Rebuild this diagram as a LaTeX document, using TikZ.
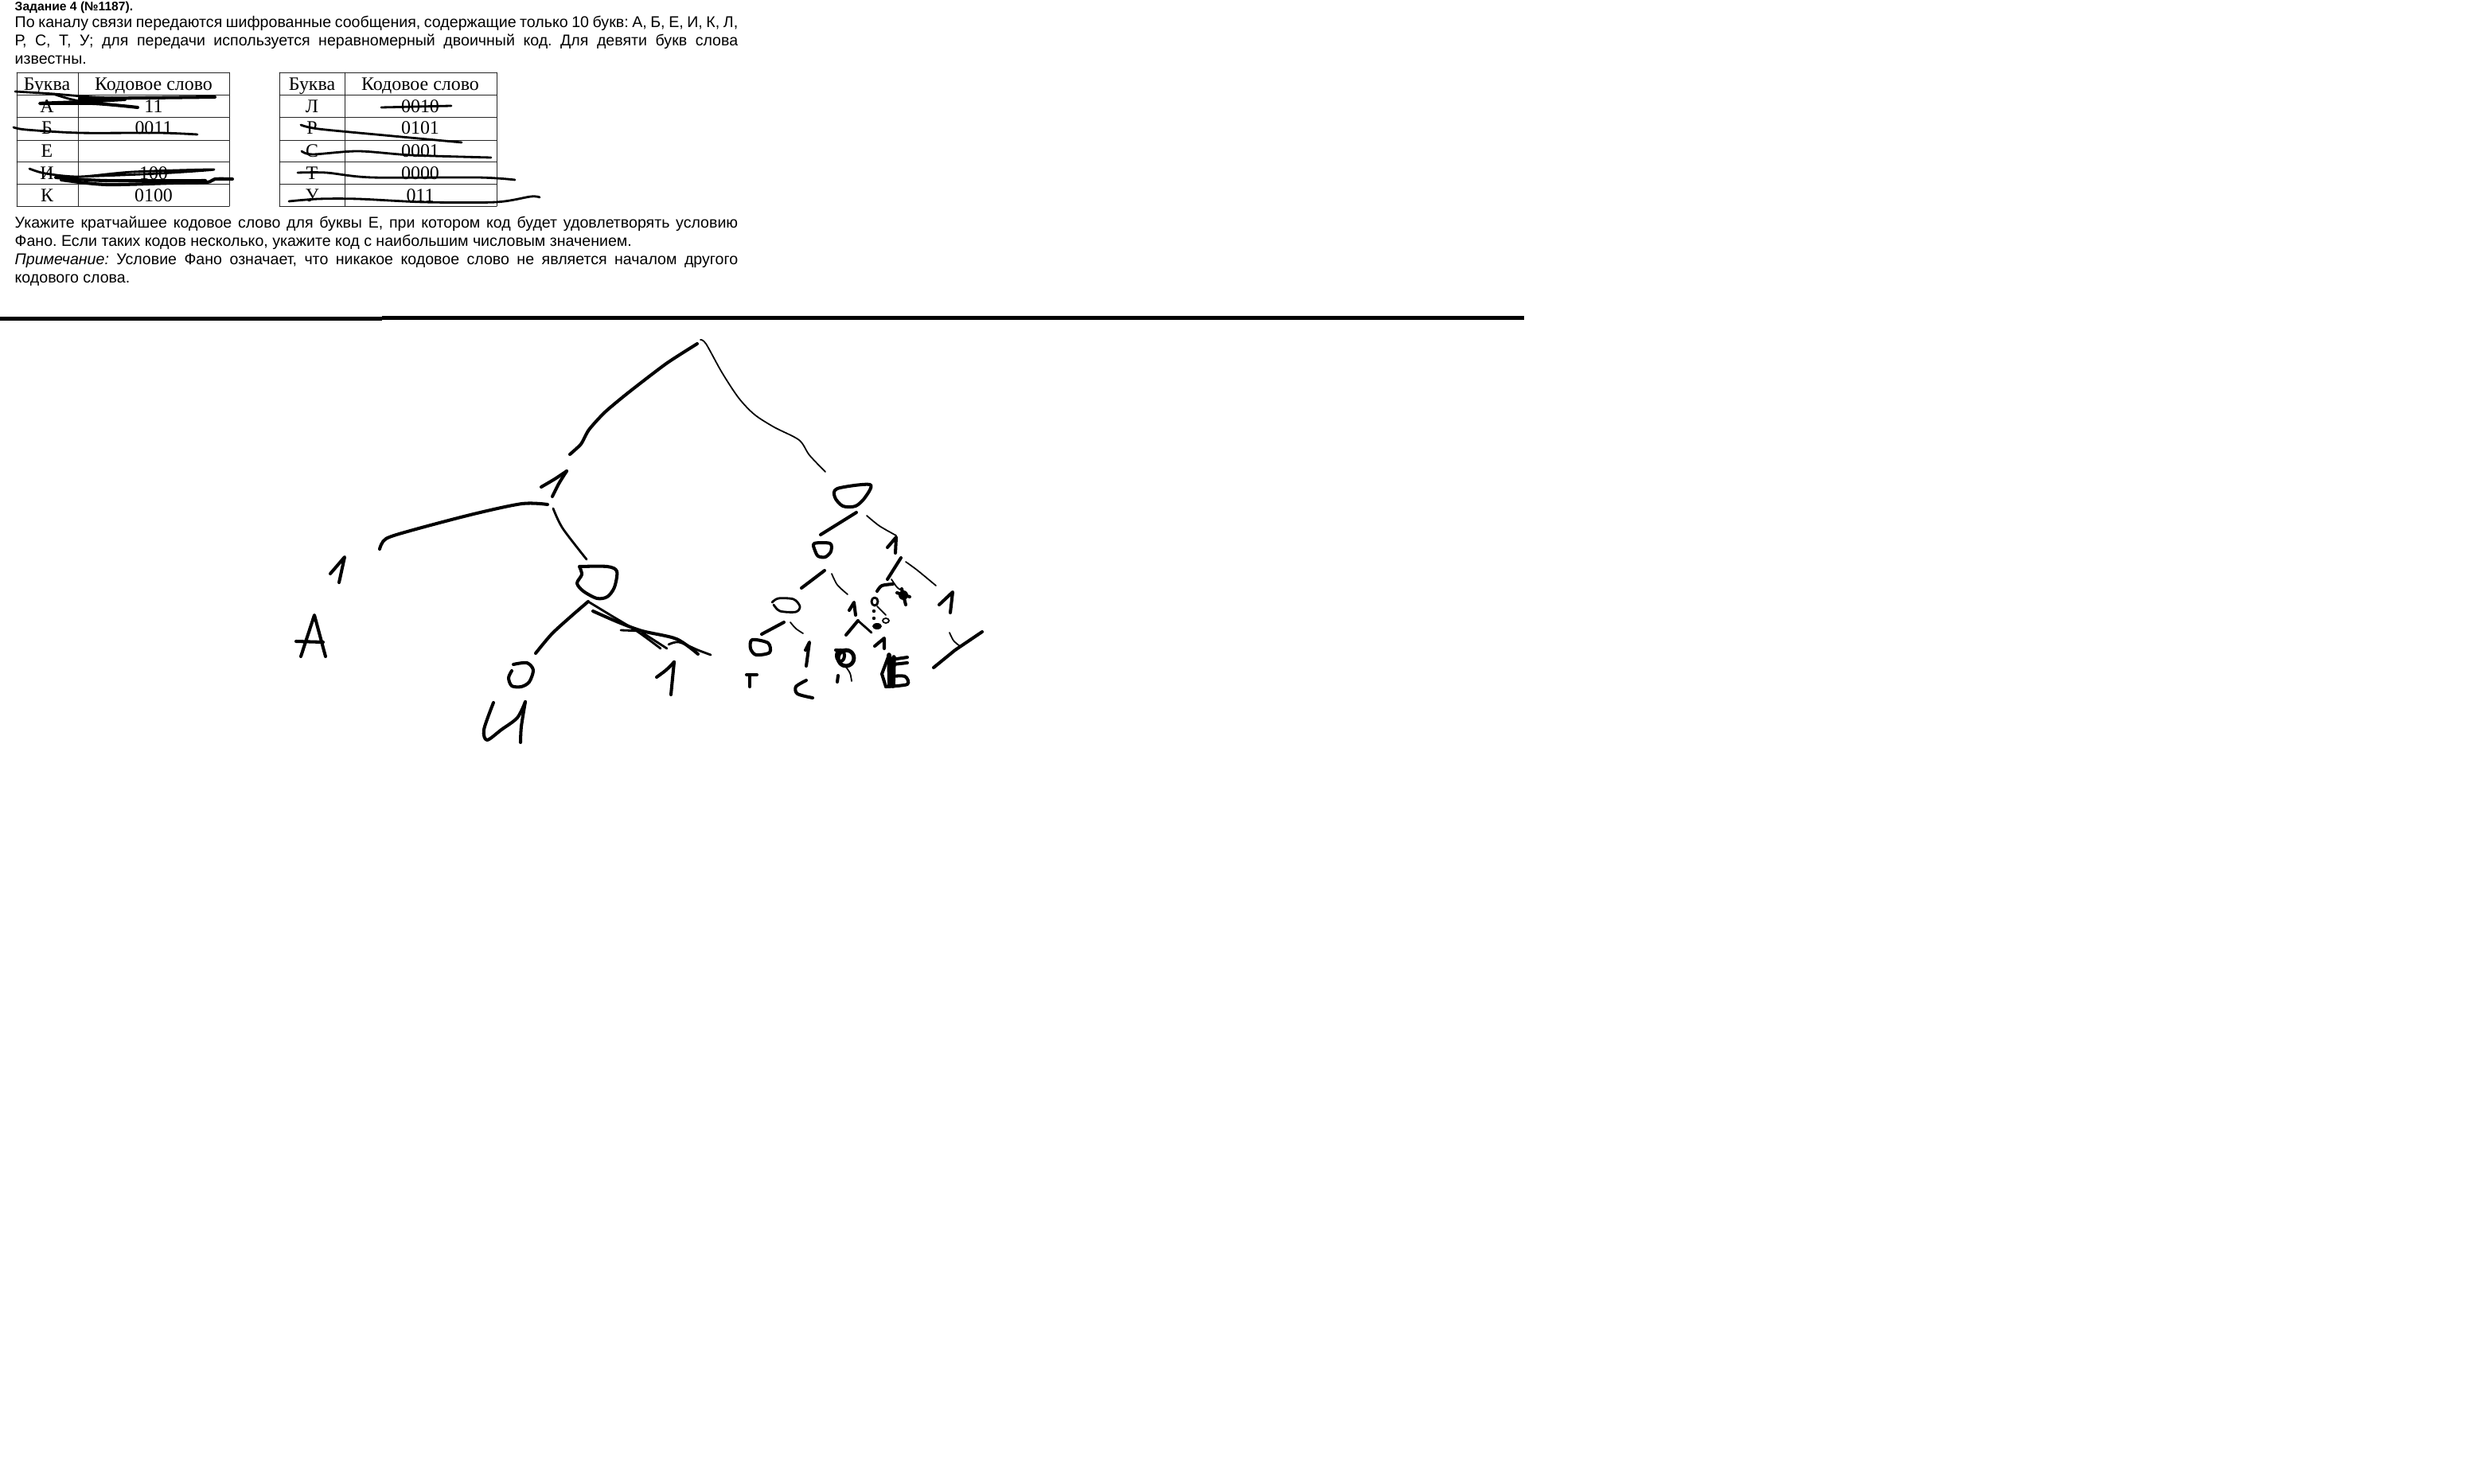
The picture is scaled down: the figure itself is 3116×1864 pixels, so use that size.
\documentclass[tikz,border=0pt]{standalone}
\usepackage{fontspec}
\setmainfont{Liberation Sans}
\newfontfamily\tablefont{Liberation Serif}
\frenchspacing
\begin{document}
\begin{tikzpicture}[x=0.01cm, y=-0.01cm,
    line cap=round, line join=round,
    inkthick/.style={line width=1.15pt},
    inkmid/.style={line width=0.8pt},
    inkthin/.style={line width=0.5pt},
    rowtext/.style={anchor=base west, inner sep=0pt, font=\fontsize{5.57}{6}\selectfont},
    cell/.style={anchor=base, inner sep=0pt, font=\tablefont\fontsize{6.8}{7}\selectfont},
    gridline/.style={line width=0.25pt, black!85}]
  \useasboundingbox (0,0) rectangle (3116,1864);
  \fill[white] (0,0) rectangle (3116,1864);
  % условие
  \node[rowtext, font=\bfseries\fontsize{4.45}{6}\selectfont] (title) at (18,14) {Задание 4 (№1187).};
  \node[rowtext] (line1) at (18,35) {\makebox[9.08cm][s]{По каналу связи передаются шифрованные сообщения, содержащие только 10 букв: А, Б, Е, И, К, Л,}};
  \node[rowtext] (line2) at (18,58) {\makebox[9.08cm][s]{Р, С, Т, У; для передачи используется неравномерный двоичный код. Для девяти букв слова}};
  \node[rowtext] (line3) at (18,81) {известны.};
  \node[rowtext] (line4) at (18,287) {\makebox[9.08cm][s]{Укажите кратчайшее кодовое слово для буквы Е, при котором код будет удовлетворять условию}};
  \node[rowtext] (line5) at (18,310) {Фано. Если таких кодов несколько, укажите код с наибольшим числовым значением.};
  \node[rowtext] (line6) at (18,333) {\makebox[9.08cm][s]{\textit{Примечание:} Условие Фано означает, что никакое кодовое слово не является началом другого}};
  \node[rowtext] (line7) at (18,356) {кодового слова.};
  % таблицы
  \foreach \xa/\xb/\xc in {21/98/288, 351/433/624} {
    \foreach \y in {91,119,147,176,203,231,259}
      \draw[gridline] (\xa,\y) -- (\xc,\y);
    \foreach \x in {\xa,\xb,\xc}
      \draw[gridline] (\x,91) -- (\x,259);
  }
  \foreach \nm/\letter/\code/\y in {a/Буква/Кодовое слово/114, b/А/11/142, c/Б/0011/169, d/Е/{}/198, e/И/100/226, f/К/0100/254} {
    \node[cell] (l\nm) at (59,\y) {\letter};
    \node[cell] (k\nm) at (193,\y) {\code};
  }
  \foreach \nm/\letter/\code/\y in {a/Буква/Кодовое слово/114, b/Л/0010/142, c/Р/0101/169, d/С/0001/198, e/Т/0000/226, f/У/011/254} {
    \node[cell] (m\nm) at (392,\y) {\letter};
    \node[cell] (n\nm) at (528,\y) {\code};
  }
  % зачёркивания
  \draw[inkmid] plot[smooth] coordinates {(19,115) (67,118) (117,122) (157,123) (270,122)};
  \draw[inkthick] plot[smooth] coordinates {(157,125) (100,128) (50,130) (117,130) (173,135)};
  \draw[inkmid] plot[smooth] coordinates {(67,118) (100,127) (173,135)};
  \draw[inkthick] (100,124) -- (270,122);
  \draw[inkmid] plot[smooth] coordinates {(17,160) (33,163) (100,167) (200,167) (248,169)};
  \draw[inkmid] plot[smooth] coordinates {(37,212) (57,218) (100,222) (167,216) (269,213) (200,218) (100,222)};
  \draw[inkthick] plot[smooth] coordinates {(70,223) (133,227) (258,227)};
  \draw[inkthick] plot[smooth] coordinates {(77,226) (133,232) (217,230) (260,229) (270,225) (292,225)};
  \draw[inkmid] (479,135) -- (567,133);
  \draw[inkmid] plot[smooth] coordinates {(378,157) (400,162) (483,170) (580,179)};
  \draw[inkmid] plot[smooth] coordinates {(379,190) (393,194) (450,190) (517,195) (617,198)};
  \draw[inkmid] plot[smooth] coordinates {(374,217) (410,217) (467,223) (600,223) (647,226)};
  \draw[inkmid] plot[smooth] coordinates {(363,253) (400,250) (450,250) (533,254) (623,254) (667,247) (678,248)};
  % линия
  \fill[black] (0,398) rectangle (480,403);
  \fill[black] (480,397.5) rectangle (1435,402.5);
  \fill[black] (1435,397) rectangle (1915,402);
  % дерево: левая часть
  \draw[inkthick] plot[smooth, tension=0.4] coordinates {(876,432) (837,457) (790,493) (760,518) (740,540) (730,558) (716,571)};
  \draw[inkthin] plot[smooth] coordinates {(880,427) (887,432) (907,468) (928,500) (948,521) (973,537) (1004,553) (1017,572) (1037,593)};
  \draw[inkthick] plot[smooth] coordinates {(680,612) (697,602) (712,592)};
  \draw[inkthick] plot[smooth] coordinates {(712,592) (702,608) (694,624)};
  \draw[inkthick] plot[smooth] coordinates {(688,634) (656,633) (595,646) (519,666) (485,677) (477,690)};
  \draw[inkmid] plot[smooth] coordinates {(695,639) (707,664) (737,703)};
  \draw[inkthick] (415,721) -- (433,700) -- (426,732);
  \draw[inkthick] (378,825) -- (395,773) -- (409,825) (372,806) -- (406,807);
  \draw[inkthick] plot[smooth] coordinates {(728,712) (763,712) (775,718) (772,738) (763,750) (750,752) (733,743) (725,733) (731,722) (728,712)};
  \draw[inkthick] plot[smooth] coordinates {(673,821) (693,797) (717,775) (739,756)};
  \draw[inkmid] plot[smooth] coordinates {(739,756) (767,773) (800,793) (830,815)};
  \draw[inkmid] (807,795) -- (838,815);
  \draw[inkthick] plot[smooth] coordinates {(745,768) (777,782) (807,793) (850,803) (877,822)};
  \draw[inkmid] (780,792) -- (807,793);
  \draw[inkmid] plot[smooth] coordinates {(840,810) (853,807) (877,817) (893,823)};
  \draw[inkthick] plot[smooth] coordinates {(645,835) (662,833) (670,842) (665,857) (655,863) (643,862) (639,852) (643,843)};
  \draw[inkthick] plot[smooth] coordinates {(620,883) (608,917) (612,930) (630,917) (650,902) (660,882)};
  \draw[inkthick] plot[smooth] coordinates {(660,882) (655,913) (654,933)};
  \draw[inkthick] plot[smooth] coordinates {(825,851) (837,842) (847,832)};
  \draw[inkthick] (847,832) -- (843,873);
  % дерево: правая часть
  \draw[inkthick] plot[smooth cycle] coordinates {(1052,614) (1093,609) (1087,625) (1075,636) (1059,636) (1049,625)};
  \draw[inkthick] (1076,644) -- (1031,672);
  \draw[inkthin] plot[smooth] coordinates {(1089,648) (1105,661) (1126,673)};
  \draw[inkthick] plot[smooth cycle] coordinates {(1023,683) (1043,683) (1044,693) (1037,700) (1028,699) (1024,692)};
  \draw[inkthick] (1115,688) -- (1126,675) -- (1125,695);
  \draw[inkthick] (1132,701) -- (1115,728);
  \draw[inkthin] plot[smooth] coordinates {(1138,706) (1153,717) (1176,736)};
  \draw[inkthick] (1180,760) -- (1197,744) -- (1194,770);
  \draw[inkthick] (1234,794) -- (1200,817) -- (1173,839);
  \draw[inkthin] plot[smooth] coordinates {(1193,795) (1198,805) (1206,812)};
  \draw[inkthick] (1036,717) -- (1007,739);
  \draw[inkthin] plot[smooth] coordinates {(1045,721) (1052,735) (1065,747)};
  \draw[inkmid] plot[smooth] coordinates {(970,757) (978,752) (997,753) (1005,762) (1000,769) (980,768) (972,760)};
  \draw[inkthick] (985,782) -- (957,797);
  \draw[inkthin] plot[smooth] coordinates {(993,782) (1000,790) (1009,796)};
  \draw[inkthick] plot[smooth cycle] coordinates {(945,804) (965,808) (967,820) (950,823) (943,815)};
  \draw[inkthick] (1012,817) -- (1017,807) -- (1013,837);
  \draw[inkthick] (938,848) -- (951,848) (942,848) -- (942,863);
  \draw[inkthick] plot[smooth] coordinates {(1013,855) (1000,863) (1002,872) (1021,877)};
  \draw[inkthick] (1067,767) -- (1073,757) -- (1075,773);
  \draw[inkthick] (1063,798) -- (1078,780);
  \draw[inkmid] (1078,780) -- (1095,795);
  % зачёркнутый ноль
  \draw[inkthick] (1050,817) -- (1062,818);
  \draw[line width=1.4pt] (1063,827) ellipse (10 and 10);
  \draw[inkthick] (1056,824) ellipse (5 and 7);
  \draw[inkthin] plot[smooth] coordinates {(1062,837) (1068,846) (1070,856)};
  \draw[inkthick] (1053,849) -- (1052,857);
  \draw[inkthick] (1099,812) -- (1111,802) -- (1111,815);
  % буква Б
  \draw[inkthick] (1117,823) -- (1108,847) -- (1113,863);
  \draw[line width=1.6pt] (1117,823) -- (1118,862) (1123,826) -- (1122,862);
  \draw[inkthick] (1120,829) -- (1140,826) (1122,835) -- (1140,833);
  \draw[inkthick] plot[smooth] coordinates {(1120,850) (1137,850) (1140,860) (1113,863)};
  % мелкие значки
  \draw[inkthick] plot[smooth] coordinates {(1102,743) (1108,736) (1122,734)};
  \draw[inkthin] plot[smooth] coordinates {(1120,728) (1127,738) (1133,742)};
  \fill[black] (1135,748) circle (6);
  \draw[inkthick] (1127,745) -- (1143,750) (1133,740) -- (1138,760);
  \draw[inkmid] (1099,756) ellipse (4 and 5);
  \draw[inkthin] (1102,762) -- (1113,773);
  \fill[black] (1098,768) circle (2.2) (1098,777) circle (2.2);
  \draw[inkthin] (1113,780) ellipse (4 and 3);
  \fill[black] (1102,787) ellipse (6 and 4);
\end{tikzpicture}
\end{document}
